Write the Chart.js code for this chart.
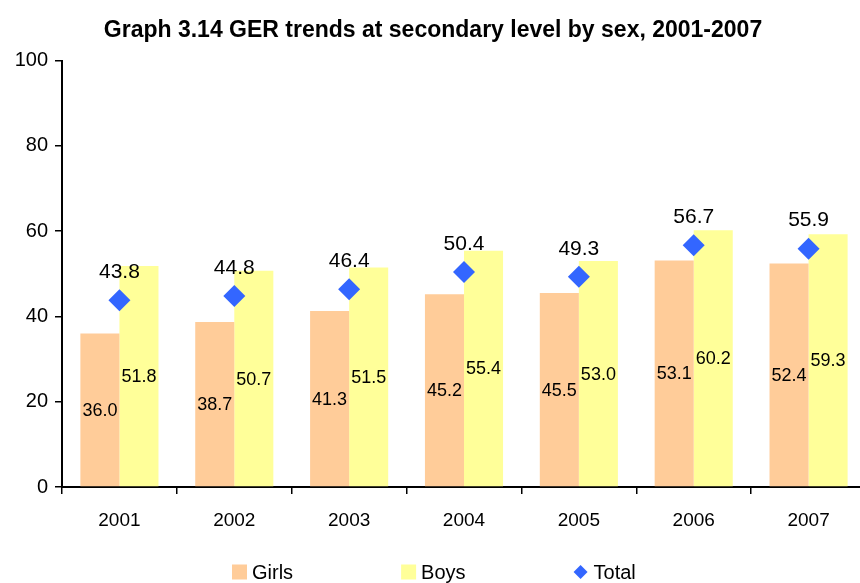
<!DOCTYPE html>
<html>
<head>
<meta charset="utf-8">
<script src="https://cdn.jsdelivr.net/npm/chart.js@4"></script>
<style>
  html, body { margin: 0; padding: 0; background: #fff; overflow: hidden; }
  #wrap { width: 866px; height: 583px; }
</style>
</head>
<body>
<div id="wrap"><canvas id="chart" width="866" height="583"></canvas></div>
<script>
const years = ["2001", "2002", "2003", "2004", "2005", "2006", "2007"];
const girls = [36.0, 38.7, 41.3, 45.2, 45.5, 53.1, 52.4];
const boys = [51.8, 50.7, 51.5, 55.4, 53.0, 60.2, 59.3];
const total = [43.8, 44.8, 46.4, 50.4, 49.3, 56.7, 55.9];
const yTicks = [0, 20, 40, 60, 80, 100];

const FONT = "'Liberation Sans', Arial, sans-serif";

// values written on the bars and above the diamonds
const valueLabels = {
    id: "valueLabels",
    afterDatasetsDraw(chart) {
        const ctx = chart.ctx;
        ctx.save();
        ctx.fillStyle = "#000";
        ctx.textAlign = "center";
        ctx.textBaseline = "middle";
        chart.data.datasets.forEach((ds, i) => {
            const meta = chart.getDatasetMeta(i);
            meta.data.forEach((el, j) => {
                const txt = ds.data[j].toFixed(1);
                if (ds.type === "line") {
                    ctx.font = "21px " + FONT;
                    ctx.fillText(txt, el.x, el.y - 28);
                } else {
                    ctx.font = "18px " + FONT;
                    ctx.fillText(txt, el.x, (el.y + el.base) / 2 + 1);
                }
            });
        });
        ctx.restore();
    }
};

// legend row under the axis, spaced wide like the original
const wideLegend = {
    id: "wideLegend",
    afterDraw(chart) {
        const ctx = chart.ctx;
        const y = 572;
        let x = 232;
        ctx.save();
        ctx.font = "20px " + FONT;
        ctx.textBaseline = "middle";
        ctx.textAlign = "left";
        chart.data.datasets.forEach(ds => {
            ctx.fillStyle = ds.backgroundColor;
            if (ds.type === "line") {
                ctx.beginPath();
                ctx.moveTo(x + 7, y - 7);
                ctx.lineTo(x + 14, y);
                ctx.lineTo(x + 7, y + 7);
                ctx.lineTo(x, y);
                ctx.closePath();
                ctx.fill();
            } else {
                ctx.fillRect(x, y - 7.5, 15, 15);
            }
            ctx.fillStyle = "#000";
            ctx.fillText(ds.label, x + 20, y + 1);
            x += 20 + ctx.measureText(ds.label).width + 108;
        });
        ctx.restore();
    }
};

new Chart(document.getElementById("chart"), {
    type: "bar",
    data: {
        labels: years,
        datasets: [
            {
                label: "Girls",
                data: girls,
                backgroundColor: "#FFCC99",
                categoryPercentage: 0.68,
                barPercentage: 1.0,
                order: 2
            },
            {
                label: "Boys",
                data: boys,
                backgroundColor: "#FFFF99",
                categoryPercentage: 0.68,
                barPercentage: 1.0,
                order: 2
            },
            {
                type: "line",
                label: "Total",
                data: total,
                showLine: false,
                pointStyle: "rectRot",
                pointRadius: 11,
                pointHoverRadius: 11,
                backgroundColor: "#3366FF",
                borderColor: "#3366FF",
                borderWidth: 0,
                order: 1
            }
        ]
    },
    options: {
        responsive: false,
        animation: false,
        layout: {
            autoPadding: false,
            padding: { top: 0, right: 0, left: 0, bottom: 40 }
        },
        plugins: {
            title: {
                display: true,
                text: "Graph 3.14 GER trends at secondary level by sex, 2001-2007",
                color: "#000",
                font: { family: FONT, size: 23, weight: "bold" },
                padding: { top: 17, bottom: 16 }
            },
            legend: { display: false },
            tooltip: { enabled: false }
        },
        scales: {
            x: {
                offset: true,
                afterFit(axis) {
                    axis.height = 56;
                    axis.paddingLeft = 0;
                    axis.paddingRight = 0;
                },
                grid: {
                    display: true,
                    offset: true,
                    drawOnChartArea: false,
                    drawTicks: true,
                    tickLength: 7,
                    lineWidth: 1.5,
                    color: "#000"
                },
                border: { color: "#000", width: 2 },
                ticks: {
                    color: "#000",
                    font: { family: FONT, size: 19 },
                    padding: 15
                }
            },
            y: {
                min: 0,
                max: 100,
                afterFit(axis) { axis.width = 62; },
                afterBuildTicks(axis) {
                    axis.ticks = yTicks.map(v => ({ value: v }));
                },
                grid: {
                    display: true,
                    drawOnChartArea: false,
                    drawTicks: true,
                    tickLength: 7,
                    lineWidth: 1.5,
                    color: "#000"
                },
                border: { color: "#000", width: 2 },
                ticks: {
                    color: "#000",
                    font: { family: FONT, size: 20 },
                    padding: 7
                }
            }
        }
    },
    plugins: [valueLabels, wideLegend]
});
</script>
</body>
</html>
